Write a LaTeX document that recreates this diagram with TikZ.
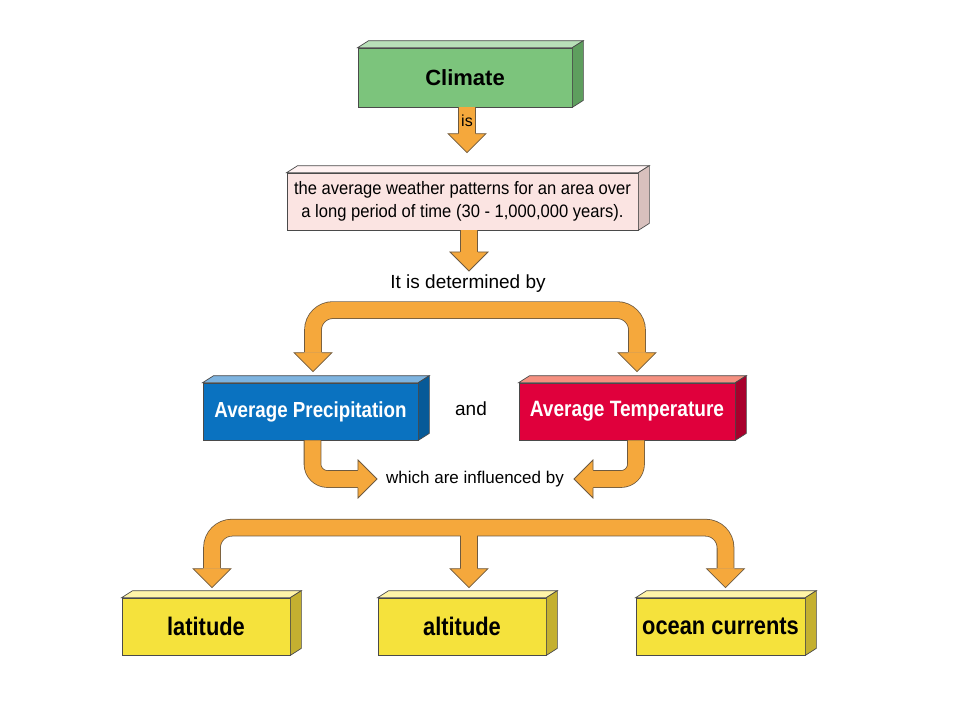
\documentclass[tikz,border=0pt]{standalone}
\usepackage{fontspec}
\setmainfont{Liberation Sans}
\newfontfamily\narrowfont[FakeStretch=0.86]{Liberation Sans}
\newfontfamily\semifont[FakeStretch=0.92]{Liberation Sans}
\usetikzlibrary{calc}
\definecolor{edgec}{HTML}{4A4A4A}
\definecolor{arrowor}{HTML}{F5A83C}
\definecolor{arrowedge}{HTML}{6E5A40}
\definecolor{gfront}{HTML}{7CC47C}\definecolor{gtop}{HTML}{B8E0B8}\definecolor{gside}{HTML}{5E9E5E}
\definecolor{pfront}{HTML}{FBE4E2}\definecolor{ptop}{HTML}{FFF2F2}\definecolor{pside}{HTML}{D8C0BD}
\definecolor{bfront}{HTML}{0A72C0}\definecolor{btop}{HTML}{7EB4E0}\definecolor{bside}{HTML}{065A98}
\definecolor{rfront}{HTML}{E0003C}\definecolor{rtop}{HTML}{F59080}\definecolor{rside}{HTML}{A8002C}
\definecolor{yfront}{HTML}{F5E23C}\definecolor{ytop}{HTML}{FFF4A8}\definecolor{yside}{HTML}{C4B030}
\newcommand\cubefaces[3]{%
  \filldraw[fill=#2,draw=edgec,line width=0.7pt] (#1.north west) -- ++(11,-7) -- ($(#1.north east)+(11,-7)$) -- (#1.north east) -- cycle;
  \filldraw[fill=#3,draw=edgec,line width=0.7pt] (#1.north east) -- ++(11,-7) -- ($(#1.south east)+(11,-7)$) -- (#1.south east) -- cycle;}
\tikzset{
  cube/.style={draw=edgec,line width=0.7pt,inner sep=0pt,align=center},
  fatout/.style={line width=17.6pt,draw=arrowedge},
  fatin/.style={line width=16pt,draw=arrowor},
  headdown/.pic={\filldraw[fill=arrowor,draw=arrowedge,line width=0.8pt,line join=miter] (-8.8,-19) -- (-19,-19) -- (0,0) -- (19,-19) -- (8.8,-19);},
  headright/.pic={\filldraw[fill=arrowor,draw=arrowedge,line width=0.8pt,line join=miter] (-19,-8.8) -- (-19,-19) -- (0,0) -- (-19,19) -- (-19,8.8);},
  headleft/.pic={\filldraw[fill=arrowor,draw=arrowedge,line width=0.8pt,line join=miter] (19,-8.8) -- (19,-19) -- (0,0) -- (19,19) -- (19,8.8);},
  lbl/.style={inner sep=2pt,text=black}
}
\begin{document}
\begin{tikzpicture}[x=1pt,y=-1pt]
\useasboundingbox[fill=white] (0,0) rectangle (960,720);
% boxes
\node[cube,fill=gfront,minimum width=214pt,minimum height=59pt,font=\fontsize{22}{24}\selectfont\bfseries] (climate) at (465,77.5) {Climate};
\cubefaces{climate}{gtop}{gside}
\node[cube,fill=pfront,minimum width=351pt,minimum height=57pt,font=\semifont\fontsize{18}{23}\selectfont] (def) at (462.5,201.5)
  {the average weather patterns for an area over\\ a long period of time (30 - 1,000,000 years).};
\cubefaces{def}{ptop}{pside}
\node[cube,fill=bfront,minimum width=215pt,minimum height=57pt,text=white,font=\narrowfont\fontsize{21.8}{24}\selectfont\bfseries] (precip) at (310.5,411.5) {Average Precipitation};
\cubefaces{precip}{btop}{bside}
\node[cube,fill=rfront,minimum width=216pt,minimum height=57pt,text=white,font=\narrowfont\fontsize{22.2}{24}\selectfont\bfseries] (temp) at (627,411.5) {Average Temperature};
\cubefaces{temp}{rtop}{rside}
\tikzset{ylab/.style={cube,fill=yfront,minimum width=168pt,minimum height=57pt,font=\narrowfont\fontsize{25.4}{27}\selectfont\bfseries}}
\node[ylab] (lat) at (206,626.5) {latitude};
\cubefaces{lat}{ytop}{yside}
\node[ylab] (alt) at (462,626.5) {altitude};
\cubefaces{alt}{ytop}{yside}
\node[ylab,minimum width=169pt] (ocean) at (720.5,626.5) {ocean currents};
\cubefaces{ocean}{ytop}{yside}
% texts
\node[lbl,font=\fontsize{19}{21}\selectfont] (det) at (468,284) {It is determined by};
\node[lbl,font=\fontsize{19}{21}\selectfont] (and) at (471,409) {and};
\node[lbl,font=\fontsize{17}{19}\selectfont] (which) at (475,479) {which are influenced by};
% arrow 1: climate -> def
\coordinate (t1) at ($(def.north)+(4.5,-20)$);
\coordinate (s1) at (climate.south -| t1);
\draw[fatout] (s1) -- ($(t1)+(0,-19)$);
\draw[fatin] (s1) -- ($(t1)+(0,-19)$);
\pic at (t1) {headdown};
\node[lbl,font=\fontsize{16}{18}\selectfont] (is) at ($(s1)+(0,13)$) {is};
% arrow 2: def -> det
\coordinate (t2) at ($(det.north)+(1,-2)$);
\coordinate (s2) at (def.south -| t2);
\draw[fatout] (s2) -- ($(t2)+(0,-19)$);
\draw[fatin] (s2) -- ($(t2)+(0,-19)$);
\pic at (t2) {headdown};
% upper bracket
\coordinate (tL) at ($(precip.north)+(2.5,-11)$);
\coordinate (tR) at ($(temp.north)+(10,-11)$);
\coordinate (band1) at ($(det.south)+(0,15)$);
\draw[fatout,rounded corners=20pt] ($(tL)+(0,-19)$) |- (band1) -| ($(tR)+(0,-19)$);
\draw[fatin,rounded corners=20pt] ($(tL)+(0,-19)$) |- (band1) -| ($(tR)+(0,-19)$);
\pic at (tL) {headdown};
\pic at (tR) {headdown};
% precip -> which, temp -> which
\coordinate (tW) at ($(which.west)+(-7,0)$);
\coordinate (tE) at ($(which.east)+(8,0)$);
\coordinate (sP) at ($(precip.south)+(2,0)$);
\coordinate (sT) at ($(temp.south)+(9,0)$);
\draw[fatout,rounded corners=15pt] (sP) |- ($(tW)+(-19,0)$);
\draw[fatin,rounded corners=15pt] (sP) |- ($(tW)+(-19,0)$);
\draw[fatout,rounded corners=15pt] (sT) |- ($(tE)+(19,0)$);
\draw[fatin,rounded corners=15pt] (sT) |- ($(tE)+(19,0)$);
\pic at (tW) {headright};
\pic at (tE) {headleft};
% lower bracket
\coordinate (b1) at ($(lat.north)+(6,-10)$);
\coordinate (b2) at ($(alt.north)+(7,-10)$);
\coordinate (b3) at ($(ocean.north)+(5,-10)$);
\coordinate (band2) at ($(alt.north)+(0,-70)$);
\draw[fatout,rounded corners=20pt] ($(b1)+(0,-19)$) |- (band2) -| ($(b3)+(0,-19)$);
\draw[fatout] (b2 |- band2) -- ($(b2)+(0,-19)$);
\draw[fatin,rounded corners=20pt] ($(b1)+(0,-19)$) |- (band2) -| ($(b3)+(0,-19)$);
\draw[fatin] (b2 |- band2) -- ($(b2)+(0,-19)$);
\pic at (b1) {headdown};
\pic at (b2) {headdown};
\pic at (b3) {headdown};
\end{tikzpicture}
\end{document}
